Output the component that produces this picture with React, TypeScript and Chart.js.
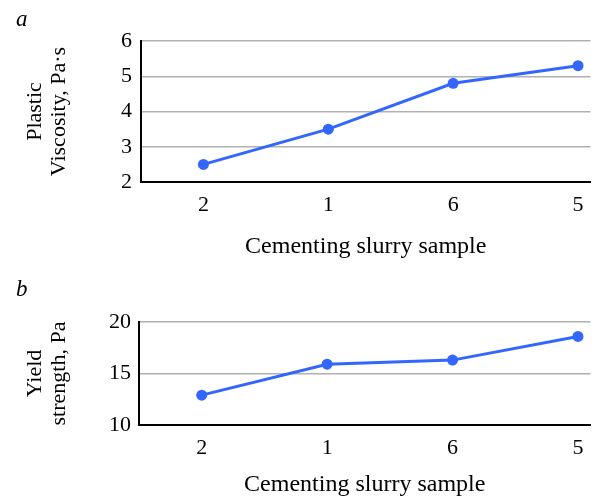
import React, { useEffect, useRef } from "react";
import { Chart, registerables } from "chart.js";

Chart.register(...registerables);

const categories = ["2", "1", "6", "5"];
const plasticViscosity = [2.5, 3.5, 4.8, 5.3];
const yieldStrength = [12.9, 15.9, 16.3, 18.6];
const viscosityTicks = [2, 3, 4, 5, 6];
const yieldTicks = [10, 15, 20];
const xTitle = "Cementing slurry sample";
const viscosityTitle = ["Plastic", "Viscosity, Pa·s"];
const yieldTitle = ["Yield", "strength, Pa"];

const FONT = "'Liberation Serif', 'Times New Roman', serif";
const BLUE = "#3366ff";
const GRID = "#b0b0b0";

type PanelProps = {
  values: number[];
  yTicks: number[];
  yTitle: string[];
  width: number;
  height: number;
  padTop: number;
  padLeft: number;
  yWidth: number;
  xHeight: number;
  xTickPad: number;
  xTitlePad: number;
  yTickPad: number;
};

function Panel(p: PanelProps) {
  const ref = useRef<HTMLCanvasElement | null>(null);
  useEffect(() => {
    let chart: Chart | null = null;
    let cancelled = false;
    const build = () => {
      if (cancelled || !ref.current) return;
      const yMin = p.yTicks[0];
      const yMax = p.yTicks[p.yTicks.length - 1];
      chart = new Chart(ref.current, {
        type: "line",
        data: {
          datasets: [
            {
              data: p.values.map((v, i) => ({ x: i, y: v })),
              borderColor: BLUE,
              backgroundColor: BLUE,
              borderWidth: 3,
              pointRadius: 5.5,
              pointBackgroundColor: BLUE,
              pointBorderWidth: 0,
              tension: 0,
              clip: false as any,
            },
          ],
        },
        options: {
          animation: false,
          responsive: false,
          maintainAspectRatio: false,
          layout: { padding: { left: p.padLeft, top: p.padTop, right: 0, bottom: 0 } },
          plugins: { legend: { display: false }, tooltip: { enabled: false } },
          scales: {
            x: {
              type: "linear",
              min: -0.5,
              max: 3.1,
              afterBuildTicks: (s: any) => {
                s.ticks = categories.map((_, i) => ({ value: i }));
              },
              afterFit: (s: any) => {
                s.height = p.xHeight;
              },
              grid: { display: false, drawTicks: false },
              border: { display: true, color: "#000", width: 2 },
              ticks: {
                callback: (v: any) => categories[v as number] ?? "",
                font: { family: FONT, size: 22 },
                color: "#000",
                padding: p.xTickPad,
                maxRotation: 0,
                autoSkip: false,
              },
              title: {
                display: true,
                text: xTitle,
                font: { family: FONT, size: 24 },
                color: "#000",
                padding: { top: 0, bottom: p.xTitlePad },
              },
            },
            y: {
              type: "linear",
              min: yMin,
              max: yMax,
              afterBuildTicks: (s: any) => {
                s.ticks = p.yTicks.map((v) => ({ value: v }));
              },
              afterFit: (s: any) => {
                s.width = p.yWidth;
              },
              grid: {
                color: (c: any) => (c.tick && c.tick.value === yMin ? "rgba(0,0,0,0)" : GRID),
                lineWidth: 1.5,
                drawTicks: false,
              },
              border: { display: true, color: "#000", width: 2 },
              ticks: {
                font: { family: FONT, size: 22 },
                color: "#000",
                padding: p.yTickPad,
              },
              title: {
                display: true,
                text: p.yTitle,
                font: { family: FONT, size: 22, lineHeight: 1.1 },
                color: "#000",
                padding: 0,
              },
            },
          },
        },
      } as any);
    };
    const fonts: any = (document as any).fonts;
    if (fonts && fonts.load) {
      Promise.all([
        fonts.load("22px 'Liberation Serif'"),
        fonts.load("24px 'Liberation Serif'"),
        fonts.load("italic 23px 'Liberation Serif'"),
      ])
        .catch(() => null)
        .then(build);
    } else {
      build();
    }
    return () => {
      cancelled = true;
      if (chart) chart.destroy();
    };
  }, []);
  return <canvas ref={ref} width={p.width} height={p.height} style={{ display: "block" }} />;
}

const labelStyle: React.CSSProperties = {
  position: "absolute",
  left: 16,
  fontFamily: FONT,
  fontStyle: "italic",
  fontSize: 23,
  lineHeight: 1,
  color: "#000",
};

export default function App() {
  return (
    <div
      style={{
        position: "absolute",
        top: 0,
        left: 0,
        width: 596,
        height: 497,
        background: "#fff",
        overflow: "hidden",
      }}
    >
      <div style={{ position: "absolute", top: 0, left: 0 }}>
        <Panel
          values={plasticViscosity}
          yTicks={viscosityTicks}
          yTitle={viscosityTitle}
          width={596}
          height={262}
          padTop={41}
          padLeft={23}
          yWidth={118}
          xHeight={80}
          xTickPad={10}
          xTitlePad={1}
          yTickPad={9}
        />
      </div>
      <div style={{ position: "absolute", top: 262, left: 0 }}>
        <Panel
          values={yieldStrength}
          yTicks={yieldTicks}
          yTitle={yieldTitle}
          width={596}
          height={235}
          padTop={60}
          padLeft={23}
          yWidth={116}
          xHeight={72}
          xTickPad={10}
          xTitlePad={-2}
          yTickPad={8}
        />
      </div>
      <div style={{ ...labelStyle, top: 7 }}>a</div>
      <div style={{ ...labelStyle, top: 277 }}>b</div>
    </div>
  );
}
